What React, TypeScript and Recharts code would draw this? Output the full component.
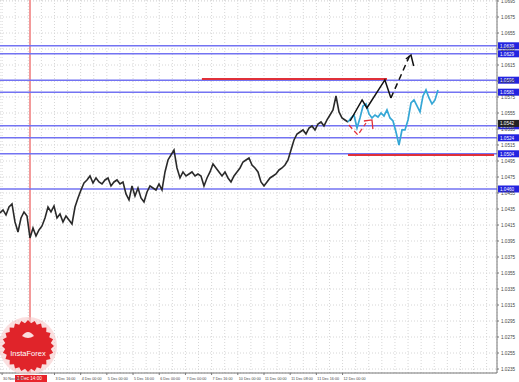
import React from 'react'
import { CartesianGrid, ComposedChart, Line, ReferenceLine, XAxis, YAxis } from 'recharts'

// closes of the main (history) series, one per bar from bar 0
const historyCloses = [
	1.043, 1.04338, 1.04275, 1.04375, 1.04413, 1.04188, 1.04063, 1.04238, 1.04313, 1.04263,
	1.03988, 1.04113, 1.04013, 1.04088, 1.04138, 1.04238, 1.04375, 1.04313, 1.04388, 1.04238,
	1.04288, 1.04188, 1.04263, 1.04213, 1.04163, 1.04375, 1.04488, 1.04588, 1.04675, 1.04713,
	1.04763, 1.04675, 1.04738, 1.04688, 1.04663, 1.04713, 1.04738, 1.04638, 1.04688, 1.04713,
	1.04663, 1.04688, 1.04538, 1.04463, 1.04638, 1.04513, 1.04613, 1.04488, 1.04438, 1.04563,
	1.04638, 1.04613, 1.04588, 1.04663, 1.04588, 1.04813, 1.04963, 1.05025, 1.05088, 1.04863,
	1.04738, 1.04813, 1.04763, 1.04788, 1.04813, 1.04763, 1.04788, 1.04763, 1.04638, 1.04738,
	1.04813, 1.04913, 1.04863, 1.04813, 1.04763, 1.04813, 1.04738, 1.04688, 1.04763, 1.04813,
	1.04863, 1.04938, 1.04963, 1.04988, 1.049, 1.04863, 1.04813, 1.04688, 1.04638, 1.04688,
	1.04738, 1.04763, 1.04788, 1.04838, 1.04863, 1.049, 1.04963, 1.05088, 1.05213, 1.05288,
	1.05313, 1.05338, 1.05288, 1.05363, 1.05388, 1.05338, 1.05413, 1.05438, 1.05388, 1.05463,
	1.05525, 1.05588, 1.05763, 1.05563, 1.05488, 1.05463, 1.05438,
]

// recent (cyan) series, starts on the last history bar
const recentStart = 116
const recentCloses = [
	1.05438, 1.05488, 1.05525, 1.05363, 1.05488, 1.05638, 1.05663, 1.05538, 1.05488, 1.05525,
	1.055, 1.0555, 1.05513, 1.05588, 1.05488, 1.0545, 1.05313, 1.0515, 1.05338, 1.05338,
	1.05463, 1.05675, 1.05713, 1.05638, 1.05563, 1.05763, 1.05838, 1.05738, 1.05663, 1.05713,
	1.05838,
]

const priceTicks = [
	1.0695, 1.0675, 1.0655, 1.0635, 1.0615, 1.0595, 1.0575, 1.0555, 1.0535, 1.0515, 1.0495, 1.0475,
	1.0455, 1.0435, 1.0415, 1.0395, 1.0375, 1.0355, 1.0335, 1.0315, 1.0295, 1.0275, 1.0255, 1.0235,
]

const timeLabels = [
	'30 Nov 2022', '', '3 Dec 16:00', '4 Dec 00:00', '5 Dec 00:00', '5 Dec 16:00', '6 Dec 00:00',
	'7 Dec 00:00', '7 Dec 16:00', '10 Dec 00:00', '11 Dec 00:00', '11 Dec 08:00', '11 Dec 16:00',
	'12 Dec 00:00',
]

const levelPrices = [1.0639, 1.0629, 1.0596, 1.0581, 1.0539, 1.0524, 1.0504, 1.046]
const currentPrice = 1.0542
const markerBar = 10
const markerLabel = '1 Dec 14:00'

// hand drawn forecast arrows (bar, price)
const forecastSolid = [
	[116.7, 1.0545], [120.7, 1.05713], [122.3, 1.05613], [128.3, 1.05963], [130.3, 1.05738],
]
const forecastDashed = [[130.3, 1.05738], [136.6, 1.0627]]
const forecastHead = [[135.3, 1.06225], [137, 1.06275], [137.9, 1.06138]]
const dipArrow = [[116.3, 1.054], [119.3, 1.05275], [122, 1.05425]]
const dipHead = [[121.3, 1.0545], [124, 1.05463], [124.3, 1.0535]]
const upperRed = { from: 67.3, to: 129, price: 1.05975 }
const lowerRed = { from: 116, to: 164.7, price: 1.05025 }

const history = historyCloses.map((p, i) => ({ i, p }))
const recent = recentCloses.map((p, k) => ({ i: recentStart + k, p }))
const toPts = (arr: number[][]) => arr.map(([i, p]) => ({ i, p }))

const labelStep = 8.73
const gridTicks = Array.from({ length: 38 }, (_, k) => 0.7 + (k * labelStep) / 2)

const FONT = 'Liberation Sans, Arial, sans-serif'

const TimeTick = ({ x, y, index }: any) => {
	const label = index % 2 === 0 ? timeLabels[index / 2] : undefined
	if (!label) return null
	return (
		<g>
			<line x1={x} x2={x} y1={y} y2={y + 2} stroke='#777' />
			<text x={x + 1} y={y + 6.5} fontSize={3.7} fill='#444' fontFamily={FONT}>
				{label}
			</text>
		</g>
	)
}

const PriceTag = ({ viewBox, text, fill }: any) => {
	if (!viewBox) return null
	const x = viewBox.x + viewBox.width + 1
	return (
		<g>
			<rect x={x} y={viewBox.y - 3.5} width={21} height={7} fill={fill} />
			<text x={x + 2} y={viewBox.y + 2} fontSize={4.6} fill='#fff' fontFamily={FONT}>
				{text}
			</text>
		</g>
	)
}

const MarkerTag = ({ viewBox }: any) => {
	if (!viewBox) return null
	const bottom = viewBox.y + viewBox.height
	return (
		<g>
			<rect x={viewBox.x - 15} y={bottom + 2} width={32} height={7} fill='#e8232a' />
			<text x={viewBox.x - 13} y={bottom + 7.3} fontSize={4.6} fill='#fff' fontFamily={FONT}>
				{markerLabel}
			</text>
		</g>
	)
}

const Badge = () => {
	const pts: string[] = []
	for (let k = 0; k < 48; k++) {
		const a = (k / 48) * Math.PI * 2
		const r = k % 2 === 0 ? 26 : 23
		pts.push(`${28 + r * Math.cos(a)},${346 + r * Math.sin(a)}`)
	}
	return (
		<svg width={60} height={60} viewBox='0 316 60 60' style={{ position: 'absolute', left: 0, top: 316 }}>
			<circle cx={28} cy={346} r={29} fill='#f6c9c9' opacity={0.6} />
			<polygon points={pts.join(' ')} fill='#e0242a' />
			<path d='M22 336 q6 -8 12 0 q-6 4 -12 0z' fill='#fff' opacity={0.85} />
			<text x={28} y={356} textAnchor='middle' fontSize={7.5} fill='#fff' fontFamily={FONT}>
				InstaForex
			</text>
		</svg>
	)
}

const lineProps = { dataKey: 'p', dot: false, activeDot: false, isAnimationActive: false } as const

export default function App() {
	return (
		<div style={{ position: 'fixed', left: 0, top: 0, width: 519, height: 382, background: '#fff' }}>
			<ComposedChart width={519} height={382} margin={{ top: 0, right: 0, bottom: 0, left: 0 }}>
				<CartesianGrid stroke='#d6d6d6' strokeDasharray='1 2' />
				<XAxis
					dataKey='i'
					type='number'
					domain={[0, 165.67]}
					allowDataOverflow
					ticks={gridTicks}
					interval={0}
					height={9}
					tickSize={0}
					tickMargin={0}
					tick={<TimeTick />}
					tickLine={false}
					axisLine={{ stroke: '#777' }}
				/>
				<YAxis
					orientation='right'
					type='number'
					domain={[1.023, 1.069625]}
					allowDataOverflow
					ticks={priceTicks}
					interval={0}
					width={22}
					tickSize={2}
					tickMargin={2}
					tickFormatter={(v: number) => v.toFixed(4)}
					tick={{ fontSize: 4.6, fill: '#444', fontFamily: FONT, textAnchor: 'start' }}
					axisLine={{ stroke: '#777' }}
					tickLine={{ stroke: '#777' }}
				/>
				<ReferenceLine
					x={markerBar}
					stroke='#f39a9a'
					strokeWidth={2}
					label={(p: any) => <MarkerTag viewBox={p.viewBox} />}
				/>
				{levelPrices.map((lv) => (
					<ReferenceLine
						key={lv}
						y={lv}
						stroke='#7373f2'
						strokeWidth={1.5}
						label={(p: any) => <PriceTag viewBox={p.viewBox} text={lv.toFixed(4)} fill='#2323e0' />}
					/>
				))}
				<ReferenceLine
					y={currentPrice}
					stroke='none'
					label={(p: any) => <PriceTag viewBox={p.viewBox} text={currentPrice.toFixed(4)} fill='#222' />}
				/>
				<ReferenceLine
					segment={[
						{ x: upperRed.from, y: upperRed.price },
						{ x: upperRed.to, y: upperRed.price },
					]}
					stroke='#e0303a'
					strokeWidth={2}
				/>
				<ReferenceLine
					segment={[
						{ x: lowerRed.from, y: lowerRed.price },
						{ x: lowerRed.to, y: lowerRed.price },
					]}
					stroke='#e0303a'
					strokeWidth={2}
				/>
				<Line {...lineProps} data={history} stroke='#2a2a2a' strokeWidth={1.6} />
				<Line {...lineProps} data={recent} stroke='#35a7d6' strokeWidth={1.7} />
				<Line {...lineProps} data={toPts(forecastSolid)} stroke='#111' strokeWidth={1.5} />
				<Line {...lineProps} data={toPts(forecastDashed)} stroke='#111' strokeWidth={1.5} strokeDasharray='6 4' />
				<Line {...lineProps} data={toPts(forecastHead)} stroke='#111' strokeWidth={1.5} />
				<Line {...lineProps} data={toPts(dipArrow)} stroke='#e0303a' strokeWidth={1.3} strokeDasharray='5 3' />
				<Line {...lineProps} data={toPts(dipHead)} stroke='#e0303a' strokeWidth={1.3} />
			</ComposedChart>
			<Badge />
		</div>
	)
}
